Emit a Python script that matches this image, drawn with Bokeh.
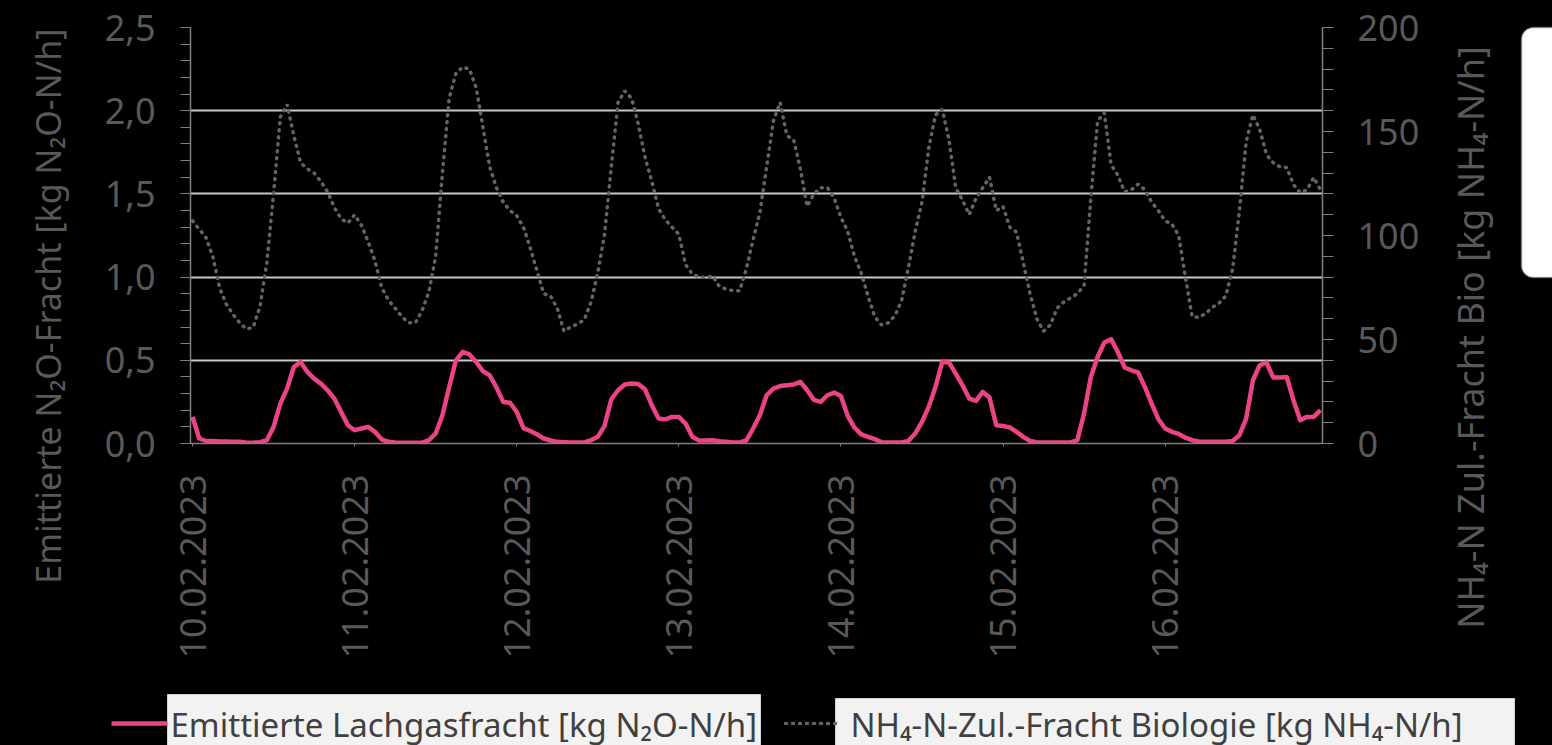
import math
from bokeh.plotting import figure
from bokeh.layouts import column, row
from bokeh.models import (Range1d, LinearAxis, FixedTicker, CustomJSTickFormatter,
                          BoxAnnotation)
from bokeh.core.properties import value
from bokeh.embed import file_html
from bokeh.resources import INLINE

# ---------------- data ----------------
dates = ["10.02.2023", "11.02.2023", "12.02.2023", "13.02.2023",
         "14.02.2023", "15.02.2023", "16.02.2023"]
date_hours = [0, 24, 48, 72, 96, 120, 144]
hours = list(range(168))

n2o_day1 = [0.16, 0.03, 0.015, 0.015, 0.012, 0.012, 0.01, 0.01, 0.005, 0.005, 0.008, 0.02,
            0.1, 0.24, 0.33, 0.46, 0.49, 0.43, 0.39, 0.36, 0.32, 0.27, 0.19, 0.11]
n2o_day2 = [0.08, 0.09, 0.1, 0.07, 0.025, 0.01, 0.006, 0.005, 0.005, 0.005, 0.005, 0.02,
            0.06, 0.17, 0.34, 0.5, 0.55, 0.535, 0.49, 0.435, 0.41, 0.337, 0.25, 0.245]
n2o_day3 = [0.19, 0.092, 0.075, 0.055, 0.03, 0.018, 0.01, 0.008, 0.006, 0.006, 0.006, 0.02,
            0.04, 0.106, 0.266, 0.32, 0.355, 0.36, 0.357, 0.326, 0.23, 0.15, 0.145, 0.16]
n2o_day4 = [0.16, 0.12, 0.04, 0.018, 0.018, 0.02, 0.014, 0.01, 0.006, 0.006, 0.018, 0.09,
            0.17, 0.29, 0.33, 0.345, 0.35, 0.355, 0.37, 0.32, 0.262, 0.25, 0.29, 0.306]
n2o_day5 = [0.286, 0.166, 0.096, 0.055, 0.04, 0.026, 0.008, 0.006, 0.006, 0.006, 0.016, 0.06,
            0.13, 0.22, 0.34, 0.49, 0.487, 0.42, 0.35, 0.27, 0.256, 0.31, 0.276, 0.11]
n2o_day6 = [0.105, 0.097, 0.07, 0.04, 0.015, 0.008, 0.006, 0.006, 0.006, 0.006, 0.006, 0.02,
            0.18, 0.4, 0.52, 0.607, 0.627, 0.55, 0.457, 0.44, 0.427, 0.34, 0.24, 0.146]
n2o_day7 = [0.09, 0.07, 0.058, 0.035, 0.02, 0.012, 0.01, 0.01, 0.01, 0.01, 0.015, 0.05,
            0.15, 0.38, 0.47, 0.487, 0.397, 0.397, 0.40, 0.26, 0.14, 0.16, 0.16, 0.20]

nh4_day1 = [107, 103, 99, 90, 75, 67, 62, 58, 55, 56, 66, 87,
            120, 157, 163, 148, 135, 132, 130, 126, 121, 113.5, 108, 106]
nh4_day2 = [110, 105, 97, 88, 75, 69, 65, 61, 58, 58, 64, 73,
            90, 130, 166, 178, 181, 180, 171, 152, 133, 123, 116, 112]
nh4_day3 = [109.5, 104, 94, 83, 72, 71, 65, 54, 56, 57.4, 59.5, 68,
            82, 100.6, 133, 164, 169.5, 166, 153.5, 137.5, 126, 113, 107.5, 104]
nh4_day4 = [100.6, 86, 81.5, 80, 79.8, 80.6, 75.5, 74.2, 73.5, 73.4, 84, 98,
            111, 133, 155, 164, 148, 146, 132, 114, 120, 123, 123, 118]
nh4_day5 = [108.7, 102, 90, 82, 71, 61, 57, 58, 61.4, 69, 84.6, 102,
            116, 142, 158, 160.7, 146, 123, 117, 110, 118, 123, 128, 112]
nh4_day6 = [114, 104, 101.6, 87, 72, 60, 54, 57, 65, 68, 70, 72,
            76, 118, 155, 159, 134, 129, 121, 122, 124.7, 122, 116, 112]
nh4_day7 = [107, 105.5, 100, 80, 61, 60.6, 62.5, 65.5, 67.5, 71, 84, 112,
            145, 158, 151, 139, 135, 133, 132.7, 124.5, 120.5, 122, 127.9, 122]

n2o = n2o_day1 + n2o_day2 + n2o_day3 + n2o_day4 + n2o_day5 + n2o_day6 + n2o_day7
nh4 = nh4_day1 + nh4_day2 + nh4_day3 + nh4_day4 + nh4_day5 + nh4_day6 + nh4_day7

left_ticks = [0.0, 0.5, 1.0, 1.5, 2.0, 2.5]
left_minor = [0.0, 0.1, 0.2, 0.3, 0.4, 0.5, 0.6, 0.7, 0.8, 0.9, 1.0, 1.1, 1.2, 1.3,
              1.4, 1.5, 1.6, 1.7, 1.8, 1.9, 2.0, 2.1, 2.2, 2.3, 2.4, 2.5]
right_ticks = [0, 50, 100, 150, 200]
right_minor = [0, 10, 20, 30, 40, 50, 60, 70, 80, 90, 100, 110, 120, 130, 140, 150,
               160, 170, 180, 190, 200]

title_left = "Emittierte N\u2082O-Fracht [kg N\u2082O-N/h]"
title_right = "NH\u2084-N Zul.-Fracht Bio [kg NH\u2084-N/h]"
legend_n2o = "Emittierte Lachgasfracht [kg N\u2082O-N/h]"
legend_nh4 = "NH\u2084-N-Zul.-Fracht Biologie [kg NH\u2084-N/h]"

# ---------------- style ----------------
FONT = "Noto Sans"
GRAY_TXT = "#595959"
AX_COL = "#7f7f7f"
PINK = "#EC4386"
DOT = "#646464"
BG = "black"
NBSP = "\u00a0"

W = 1552
TOP_H = 686          # chart part
LEG_H = 745 - TOP_H  # legend strip
MAIN_W = 1430        # main chart width; right column holds title and text box
RT_W = W - MAIN_W
FR_TOP, FR_BOTTOM = 27, 443

# ---------------- main chart ----------------
p = figure(width=MAIN_W, height=TOP_H, output_backend="svg", toolbar_location=None,
           x_range=Range1d(-0.3, 167.3), y_range=Range1d(0, 2.5),
           min_border_left=190, min_border_right=MAIN_W - 1322,
           min_border_top=FR_TOP, min_border_bottom=TOP_H - FR_BOTTOM,
           background_fill_color=BG, border_fill_color=BG, outline_line_color=None)
p.extra_y_ranges = {"nh4": Range1d(0, 200)}

xa = p.xaxis[0]
xa.ticker = FixedTicker(ticks=date_hours, minor_ticks=[])
xa.major_label_overrides = {h: d for h, d in zip(date_hours, dates)}
xa.major_label_orientation = math.pi / 2
xa.major_label_text_font = FONT
xa.major_label_text_font_size = "36px"
xa.major_label_text_color = GRAY_TXT
xa.major_label_standoff = 28
xa.axis_line_color = AX_COL
xa.axis_line_width = 1.5
xa.major_tick_line_color = AX_COL
xa.major_tick_out = 3
xa.major_tick_in = 0
xa.minor_tick_line_color = None

ya = p.yaxis[0]
ya.ticker = FixedTicker(ticks=left_ticks, minor_ticks=left_minor)
ya.formatter = CustomJSTickFormatter(code="return tick.toFixed(1).replace('.', ',');")
ya.major_label_text_font = FONT
ya.major_label_text_font_size = "36px"
ya.major_label_text_color = GRAY_TXT
ya.major_label_standoff = 25
ya.axis_line_color = AX_COL
ya.axis_line_width = 1.5
ya.major_tick_line_color = AX_COL
ya.minor_tick_line_color = AX_COL
ya.major_tick_out = 10
ya.major_tick_in = 0
ya.minor_tick_out = 10
ya.minor_tick_in = 0
ya.axis_label = title_left + NBSP * 16
ya.axis_label_text_font = FONT
ya.axis_label_text_font_size = "34px"
ya.axis_label_text_font_style = "normal"
ya.axis_label_text_color = GRAY_TXT
ya.axis_label_standoff = 31

ra = LinearAxis(y_range_name="nh4",
                ticker=FixedTicker(ticks=right_ticks, minor_ticks=right_minor))
ra.major_label_text_font = FONT
ra.major_label_text_font_size = "36px"
ra.major_label_text_color = GRAY_TXT
ra.major_label_standoff = 24
ra.axis_line_color = AX_COL
ra.axis_line_width = 1.5
ra.major_tick_line_color = AX_COL
ra.minor_tick_line_color = AX_COL
ra.major_tick_out = 11
ra.major_tick_in = 0
ra.minor_tick_out = 11
ra.minor_tick_in = 0
p.add_layout(ra, "right")

p.xgrid.visible = False
p.ygrid.ticker = FixedTicker(ticks=left_ticks[1:])
p.ygrid.grid_line_color = "#c8c8c8"
p.ygrid.grid_line_width = 1.8

p.line(hours, nh4, y_range_name="nh4", line_color=DOT, line_width=3.5,
       line_dash="1 6", line_cap="round")
p.line(hours, n2o, line_color=PINK, line_width=4.5, line_join="round")


def blank(w, h):
    f = figure(width=w, height=h, output_backend="svg", toolbar_location=None,
               x_range=Range1d(0, w), y_range=Range1d(0, h),
               x_axis_location=None, y_axis_location=None,
               min_border_left=0, min_border_right=0,
               min_border_top=0, min_border_bottom=0,
               background_fill_color=BG, border_fill_color=BG, outline_line_color=None)
    f.xgrid.visible = False
    f.ygrid.visible = False
    f.outline_line_color = None
    return f


# ---------------- right column: axis title + partly visible text box ----------------
rt = blank(RT_W, TOP_H)
box_kw = dict(left=1521 - MAIN_W, right=RT_W + 60, top=TOP_H - 27, bottom=TOP_H - 277,
              fill_color="white", fill_alpha=1.0, line_color="#7f7f7f", line_width=2)
try:
    rt.add_layout(BoxAnnotation(border_radius=12, **box_kw))
except Exception:
    rt.add_layout(BoxAnnotation(**box_kw))
rt.text(x=[1470 - MAIN_W], y=[TOP_H - 337], text=[title_right], angle=math.pi / 2,
        text_align="center", text_baseline="alphabetic",
        text_font=value(FONT), text_font_size="36px", text_color=GRAY_TXT)

# ---------------- legend strip ----------------
lg = blank(W, LEG_H)
lg.quad(left=[167, 835], right=[760, 1514], top=[51, 47], bottom=[-10, -10],
        fill_color="#f2f2f2", line_color="#d0d0d0", line_width=1)
lg.line([111, 167], [22, 22], line_color=PINK, line_width=4.5)
lg.line([785, 835], [22, 22], line_color=DOT, line_width=3.5, line_dash="1 6",
        line_cap="round")
lg.text(x=[170, 850], y=[21, 21], text=[legend_n2o, legend_nh4],
        text_align="left", text_baseline="alphabetic",
        text_font=value(FONT), text_font_size="33px", text_color="#404040")

layout = column(row(p, column(rt, spacing=0), spacing=0), lg, spacing=0)

html = file_html(layout, INLINE)
html = html.replace("</head>",
                    "<style>html, body { background: #000000 !important; }</style></head>", 1)
open("out.html", "w").write(html)
